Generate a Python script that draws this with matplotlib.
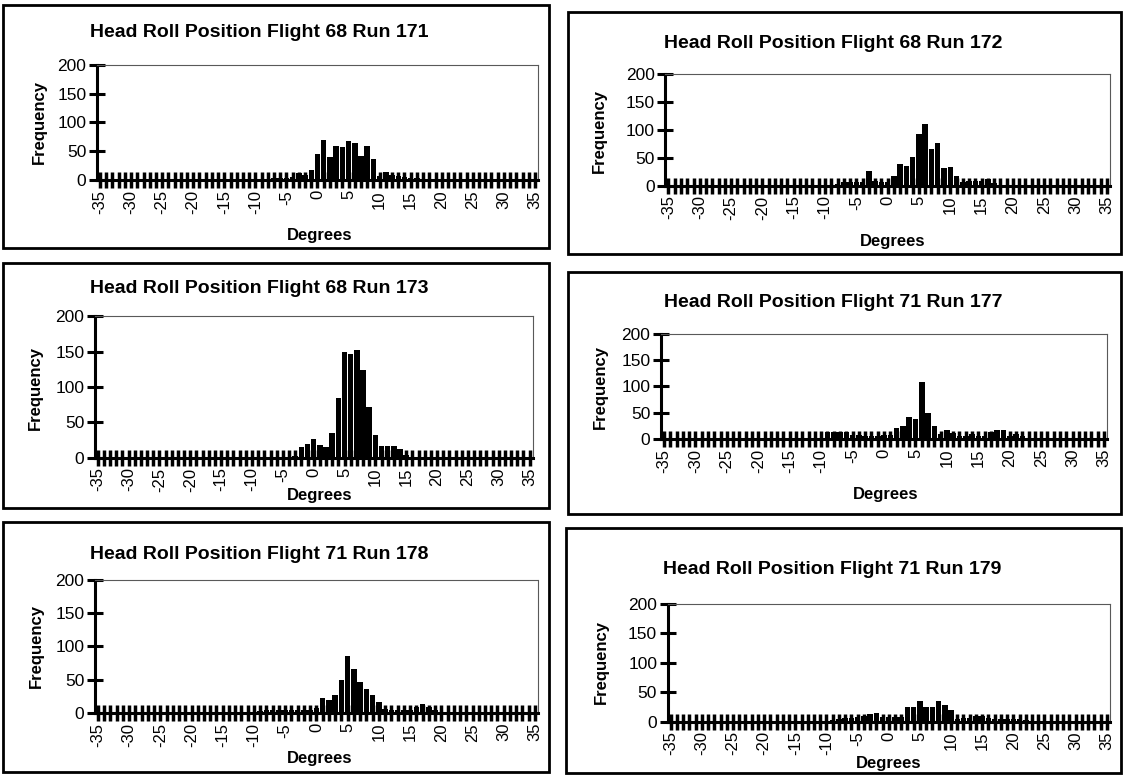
import numpy as np
import matplotlib
matplotlib.use('Agg')
import matplotlib.pyplot as plt
from matplotlib.patches import Rectangle

plt.rcParams['font.family'] = ['Liberation Sans', 'DejaVu Sans']

# histogram bins, 1 degree each
degrees = np.arange(-35, 36)
ytick_vals = [0, 50, 100, 150, 200]

# frequencies, rows of 10 bins starting at -35
run_171 = ([0] * 10 + [0] * 10 +
           [0, 0, 0, 0, 0, 2, 3, 3, 4, 4] +
           [5, 6, 13, 10, 18, 45, 70, 40, 60, 58] +
           [68, 65, 42, 60, 37, 8, 15, 10, 7, 6] +
           [5, 5, 3, 2, 0, 0, 0, 0, 0, 0] +
           [0] * 10 + [0])
run_172 = ([0] * 10 + [0] * 10 +
           [0, 0, 0, 0, 0, 0, 0, 3, 6, 7] +
           [7, 6, 27, 8, 6, 7, 17, 38, 35, 52] +
           [92, 110, 65, 77, 32, 34, 17, 7, 8, 8] +
           [8, 12, 5, 2, 0, 0, 0, 0, 0, 0] +
           [0] * 10 + [0])
run_173 = ([0] * 10 + [0] * 10 +
           [0] * 10 +
           [0, 0, 3, 15, 20, 26, 18, 15, 35, 85] +
           [150, 147, 152, 124, 72, 32, 16, 16, 16, 13] +
           [4, 0, 0, 0, 0, 0, 0, 0, 0, 0] +
           [0] * 10 + [0])
run_177 = ([0] * 10 + [0] * 10 +
           [0, 0, 0, 0, 0, 2, 13, 13, 13, 13] +
           [7, 7, 5, 6, 6, 7, 7, 20, 25, 42] +
           [38, 108, 50, 24, 10, 18, 12, 6, 5, 9] +
           [5, 6, 14, 18, 18, 5, 10, 6, 2, 0] +
           [0] * 10 + [0])
run_178 = ([0] * 10 + [0] * 10 +
           [0, 0, 0, 0, 0, 0, 3, 5, 5, 5] +
           [5, 5, 5, 5, 5, 8, 23, 20, 27, 50] +
           [85, 66, 47, 36, 27, 17, 6, 5, 5, 5] +
           [5, 10, 14, 10, 5, 2, 0, 0, 0, 0] +
           [0] * 10 + [0])
run_179 = ([0] * 10 + [0] * 10 +
           [0, 0, 0, 0, 0, 0, 3, 5, 6, 6] +
           [7, 9, 13, 15, 8, 7, 7, 7, 25, 25] +
           [35, 25, 25, 35, 28, 20, 5, 6, 6, 10] +
           [10, 6, 4, 4, 5, 4, 4, 3, 0, 0] +
           [0] * 10 + [0])

titles = ['Head Roll Position Flight 68 Run 171',
          'Head Roll Position Flight 68 Run 172',
          'Head Roll Position Flight 68 Run 173',
          'Head Roll Position Flight 71 Run 177',
          'Head Roll Position Flight 71 Run 178',
          'Head Roll Position Flight 71 Run 179']
runs = [run_171, run_172, run_173, run_177, run_178, run_179]

W, H = 1126, 776
fig = plt.figure(figsize=(W / 100, H / 100), dpi=100)

# box in pixels, then fractions inside the box:
# axes (left, right, top, bottom), title (x, y), ylabel (x, y), xlabel (x, y)
layout = [
    ((3, 5, 549, 248), (0.172, 0.980, 0.245, 0.722), (0.470, 0.114), (0.066, 0.483), (0.580, 0.950)),
    ((568, 12, 1121, 254), (0.176, 0.980, 0.255, 0.718), (0.480, 0.129), (0.057, 0.493), (0.587, 0.950)),
    ((3, 263, 549, 508), (0.168, 0.970, 0.218, 0.795), (0.470, 0.104), (0.060, 0.512), (0.580, 0.948)),
    ((568, 272, 1121, 514), (0.168, 0.975, 0.255, 0.690), (0.480, 0.125), (0.059, 0.475), (0.575, 0.920)),
    ((3, 522, 549, 772), (0.168, 0.980, 0.230, 0.765), (0.470, 0.130), (0.062, 0.497), (0.580, 0.945)),
    ((566, 528, 1121, 773), (0.183, 0.980, 0.310, 0.790), (0.480, 0.170), (0.063, 0.545), (0.582, 0.960)),
]

xlabels = [str(d) if d % 5 == 0 else '' for d in degrees]

for title, vals, (box, axf, tpos, ypos, xpos) in zip(titles, runs, layout):
    x0, y0, x1, y1 = box
    bw, bh = x1 - x0, y1 - y0
    fig.patches.append(Rectangle((x0 / W, 1 - y1 / H), bw / W, bh / H,
                                 transform=fig.transFigure, fill=False,
                                 lw=2, ec='black'))
    al, ar, at, ab = axf
    ax = fig.add_axes([(x0 + al * bw) / W, 1 - (y0 + ab * bh) / H,
                       (ar - al) * bw / W, (ab - at) * bh / H])
    ax.bar(degrees, vals, width=0.88, color='black')
    ax.set_xlim(-35.5, 35.5)
    ax.set_ylim(0, 200)
    ax.set_yticks(ytick_vals)
    ax.set_xticks(degrees)
    ax.set_xticklabels(xlabels, rotation=90)
    ax.tick_params(axis='x', direction='inout', length=12, width=2.5,
                   labelsize=12, pad=1)
    ax.tick_params(axis='y', direction='inout', length=11, width=2.2,
                   labelsize=12.5, pad=2)
    for s in ['left', 'bottom']:
        ax.spines[s].set_linewidth(2.2)
    for s in ['top', 'right']:
        ax.spines[s].set_linewidth(0.8)
        ax.spines[s].set_color('0.35')
        ax.spines[s].set_linestyle((0, (6, 1)))

    fig.text((x0 + tpos[0] * bw) / W, 1 - (y0 + tpos[1] * bh) / H, title,
             ha='center', va='center', fontsize=14, fontweight='bold')
    fig.text((x0 + ypos[0] * bw) / W, 1 - (y0 + ypos[1] * bh) / H, 'Frequency',
             ha='center', va='center', rotation=90, fontsize=12, fontweight='bold')
    fig.text((x0 + xpos[0] * bw) / W, 1 - (y0 + xpos[1] * bh) / H, 'Degrees',
             ha='center', va='center', fontsize=12, fontweight='bold')

plt.savefig('out.png', dpi=100)
